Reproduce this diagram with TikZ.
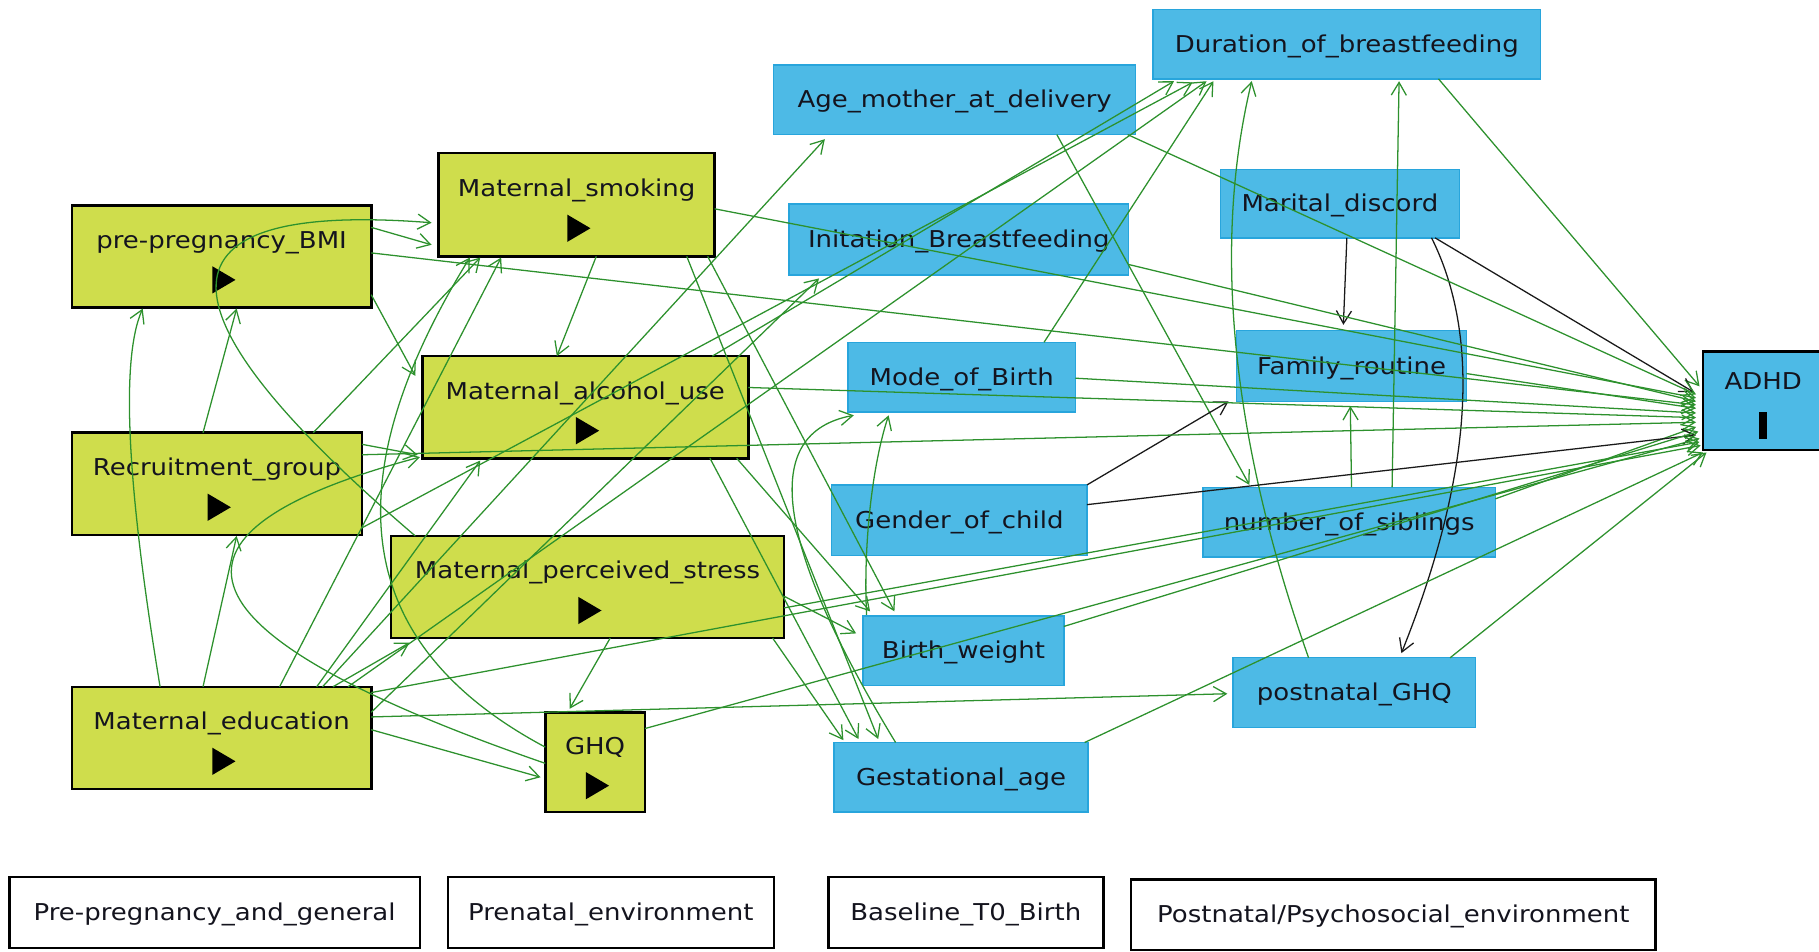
\documentclass[tikz,border=0pt]{standalone}
\usepackage{fontspec}
\newfontfamily\diagfont{DejaVu Sans}[FakeStretch=1.12]
\usetikzlibrary{arrows.meta,calc}
\definecolor{boxgreen}{RGB}{207,221,76}
\definecolor{boxblue}{RGB}{77,186,230}
\definecolor{boxblueline}{RGB}{40,165,220}
\definecolor{edgegreen}{RGB}{45,145,45}
\definecolor{edgeblack}{RGB}{25,25,25}
\definecolor{labeltext}{RGB}{20,20,30}

\begin{document}
\begin{tikzpicture}[x=1pt,y=-1pt,
  gbox/.style={draw=black,line width=2.2pt,fill=boxgreen},
  bbox/.style={draw=boxblueline,line width=1.2pt,fill=boxblue},
  obox/.style={draw=black,line width=2.2pt,fill=boxblue},
  lgbox/.style={draw=black,line width=2.2pt,fill=white},
  lab/.style={anchor=base,inner sep=0pt,font=\diagfont\fontsize{20}{24}\selectfont,text=labeltext},
  ge/.style={draw=edgegreen,line width=1.1pt,-{Straight Barb[length=11pt,width=13pt]}},
  be/.style={ge,draw=edgeblack},
]
\useasboundingbox (0,0) rectangle (1568,820);
\clip (0,0) rectangle (1568,820);

% ---------- exposure-side variables (green) ----------
\node[gbox,minimum width=258pt,minimum height=88pt] (bmi) at (191,221) {};
\node[gbox,minimum width=238pt,minimum height=89pt] (smk) at (497,176.5) {};
\node[gbox,minimum width=281pt,minimum height=88pt] (alc) at (504.5,351) {};
\node[gbox,minimum width=250pt,minimum height=88pt] (rec) at (187,417) {};
\node[gbox,minimum width=339pt,minimum height=88pt] (str) at (506.5,506) {};
\node[gbox,minimum width=258pt,minimum height=88pt] (edu) at (191,636) {};
\node[gbox,minimum width=86pt,minimum height=86pt] (ghq) at (513,657) {};

\foreach \n/\t in {bmi/pre-pregnancy\_BMI, smk/Maternal\_smoking, alc/Maternal\_alcohol\_use,
  rec/Recruitment\_group, str/Maternal\_perceived\_stress, edu/Maternal\_education, ghq/GHQ}{
  \node[lab] at ($(\n)+(0,-7)$) {\t};
  \fill ($(\n)+(-8,8.5)$) -- ($(\n)+(-8,32)$) -- ($(\n)+(12,20.25)$) -- cycle;
}

% ---------- other variables (blue) ----------
\node[bbox,minimum width=334pt,minimum height=60pt] (dur) at (1161,38) {};
\node[bbox,minimum width=312pt,minimum height=60pt] (age) at (823,86) {};
\node[bbox,minimum width=206pt,minimum height=59pt] (mar) at (1155,175.5) {};
\node[bbox,minimum width=293pt,minimum height=61pt] (ini) at (826.5,206.5) {};
\node[bbox,minimum width=198pt,minimum height=61pt] (fam) at (1165,315.5) {};
\node[bbox,minimum width=196pt,minimum height=60pt] (mob) at (829,325) {};
\node[bbox,minimum width=220pt,minimum height=61pt] (gen) at (827,448.5) {};
\node[bbox,minimum width=252pt,minimum height=60pt] (sib) at (1163,450) {};
\node[bbox,minimum width=173pt,minimum height=60pt] (bw) at (830.5,561) {};
\node[bbox,minimum width=209pt,minimum height=60pt] (pghq) at (1167.5,597) {};
\node[bbox,minimum width=219pt,minimum height=60pt] (ga) at (828.5,670) {};

\foreach \n/\t in {dur/Duration\_of\_breastfeeding, age/Age\_mother\_at\_delivery,
  mar/Marital\_discord, ini/Initation\_Breastfeeding, fam/Family\_routine,
  mob/Mode\_of\_Birth, gen/Gender\_of\_child, sib/number\_of\_siblings,
  bw/Birth\_weight, pghq/postnatal\_GHQ, ga/Gestational\_age}{
  \node[lab] at ($(\n)+(0,7)$) {\t};
}

% ---------- outcome ----------
\node[obox,minimum width=104pt,minimum height=85pt] (adhd) at (1520,345.5) {};
\node[lab] at ($(adhd)+(0,-9.5)$) {ADHD};
\fill ($(adhd)+(-3.5,9.5)$) rectangle ($(adhd)+(3.5,32.5)$);

% ---------- legend ----------
\node[lgbox,minimum width=354pt,minimum height=61pt] (lg1) at (185,786.5) {};
\node[lgbox,minimum width=281pt,minimum height=61pt] (lg2) at (526.5,786.5) {};
\node[lgbox,minimum width=237pt,minimum height=61pt] (lg3) at (832.5,786.5) {};
\node[lgbox,minimum width=452pt,minimum height=61pt] (lg4) at (1201,788.5) {};
\node[lab] at ($(lg1)+(0,7)$) {Pre-pregnancy\_and\_general};
\node[lab] at ($(lg2)+(0,7)$) {Prenatal\_environment};
\node[lab] at ($(lg3)+(0,7)$) {Baseline\_T0\_Birth};
\node[lab] at ($(lg4)+(0,7)$) {Postnatal/Psychosocial\_environment};

% ---------- edges among the green variables ----------
\draw[ge] ($(edu)+(-53,-44)$) .. controls ($(edu)+(-82,-219)$) and ($(bmi)+(-87,88)$) .. ($(bmi)+(-68,45)$);
\draw[ge] ($(edu)+(-16,-44)$) -- ($(rec)+(17,45)$);
\draw[ge] ($(rec)+(-12,-44)$) -- ($(bmi)+(13,45)$);
\draw[ge] ($(edu)+(50,-44)$) -- ($(smk)+(-65,45.5)$);
\draw[ge] ($(rec)+(83,-44)$) -- ($(smk)+(-83,45.5)$);
\draw[ge] ($(ghq)+(-43,-13)$) .. controls ($(ghq)+(-208,-101)$) and ($(smk)+(-212,240.5)$) .. ($(smk)+(-92,45.5)$);
\draw[ge] ($(smk)+(17,44.5)$) -- ($(alc)+(-24.5,-44)$);
\draw[ge] ($(bmi)+(129,-25)$) -- ($(smk)+(-125,34.5)$);
\draw[ge] ($(str)+(-148.5,-44)$) .. controls ($(bmi)+(-66,42)$) and ($(bmi)+(-62,-48)$) .. ($(smk)+(-125,15.5)$);
\draw[ge] ($(ghq)+(-43,1)$) .. controls ($(edu)+(-42,-89)$) and ($(rec)+(-72,43)$) .. ($(alc)+(-142.5,43)$);
\draw[ge] ($(rec)+(125,-34)$) -- ($(alc)+(-144.5,41)$);
\draw[ge] ($(bmi)+(129,33)$) -- ($(alc)+(-146.5,-27)$);
\draw[ge] ($(edu)+(82,-44)$) -- ($(alc)+(-90.5,46)$);
\draw[ge] ($(edu)+(96,-44)$) -- ($(str)+(-153.5,48)$);
\draw[ge] ($(edu)+(129,-7)$) -- ($(ghq)+(-47,13)$);
\draw[ge] ($(str)+(19.5,44)$) -- ($(ghq)+(-22,-46)$);

% ---------- edges from the green variables to the blue ones ----------
\draw[ge] ($(edu)+(87,-44)$) -- ($(age)+(-112,34)$);
\draw[ge] ($(edu)+(129,-22)$) -- ($(ini)+(-120.5,33.5)$);
\draw[ge] ($(edu)+(109,-44)$) -- ($(dur)+(-121,32)$);
\draw[ge] ($(rec)+(125,38)$) -- ($(dur)+(-133,33)$);
\draw[ge] ($(alc)+(109.5,-44)$) -- ($(dur)+(-149,32)$);
\draw[ge] ($(edu)+(129,-18)$) -- ($(pghq)+(-109.5,1)$);
\draw[ge] ($(str)+(169.5,8)$) -- ($(bw)+(-92.5,-15)$);
\draw[ge] ($(str)+(159.5,44)$) -- ($(ga)+(-101.5,-32)$);
\draw[ge] ($(alc)+(130.5,44)$) -- ($(bw)+(-80.5,-34)$);
\draw[ge] ($(alc)+(107.5,44)$) -- ($(ga)+(-88.5,-33)$);
\draw[ge] ($(smk)+(113,44.5)$) -- ($(bw)+(-59.5,-34)$);
\draw[ge] ($(smk)+(95,44.5)$) -- ($(ga)+(-71.5,-33)$);

% ---------- edges among the blue variables ----------
\draw[ge] ($(mob)+(71,-30)$) -- ($(dur)+(-115,32)$);
\draw[ge] ($(pghq)+(-39.5,-30)$) .. controls ($(sib)+(-102,-73)$) and ($(mar)+(-110,35.5)$) .. ($(dur)+(-82,32)$);
\draw[ge] ($(sib)+(37,-30)$) -- ($(dur)+(45,32)$);
\draw[ge] ($(age)+(88,30)$) -- ($(sib)+(-86,-32)$);
\draw[ge] ($(sib)+(2,-30)$) -- ($(fam)+(-1,34.5)$);
\draw[ge] ($(ga)+(-56.5,-30)$) .. controls ($(gen)+(-160,18.5)$) and ($(mob)+(-174,48)$) .. ($(mob)+(-93,33)$);
\draw[ge] ($(bw)+(-83.5,-31)$) .. controls ($(gen)+(-83,21.5)$) and ($(mob)+(-77,75)$) .. ($(mob)+(-63,33)$);
\draw[be] ($(mar)+(6,29.5)$) -- ($(fam)+(-7,-35.5)$);
\draw[be] ($(mar)+(79,29.5)$) .. controls ($(fam)+(112,-24.5)$) and ($(sib)+(106,-39)$) .. ($(pghq)+(40.5,-34)$);
\draw[be] ($(gen)+(110,-30.5)$) -- ($(fam)+(-106,30.5)$);

% ---------- edges into the outcome ----------
\draw[ge] ($(dur)+(79,30)$) -- ($(adhd)+(-55,-12.5)$);
\draw[be] ($(mar)+(82,29.5)$) -- ($(adhd)+(-60,-7.5)$);
\draw[ge] ($(age)+(149,30)$) -- ($(adhd)+(-58,-5.5)$);
\draw[ge] ($(smk)+(119,3.5)$) -- ($(adhd)+(-58,-2.5)$);
\draw[ge] ($(ini)+(146.5,21.5)$) -- ($(adhd)+(-58,0.5)$);
\draw[ge] ($(bmi)+(129,-3)$) -- ($(adhd)+(-58,3.5)$);
\draw[ge] ($(fam)+(99,6.5)$) -- ($(adhd)+(-58,6.5)$);
\draw[ge] ($(mob)+(98,1)$) -- ($(adhd)+(-58,10.5)$);
\draw[ge] ($(alc)+(140.5,-17)$) -- ($(adhd)+(-58,14.5)$);
\draw[ge] ($(rec)+(125,-25)$) -- ($(adhd)+(-58,18.5)$);
\draw[ge] ($(sib)+(126,-20)$) -- ($(adhd)+(-58,22.5)$);
\draw[be] ($(gen)+(110,-13.5)$) -- ($(adhd)+(-58,29.5)$);
\draw[ge] ($(bw)+(86.5,-21)$) -- ($(adhd)+(-56,26.5)$);
\draw[ge] ($(ghq)+(43,-29)$) -- ($(adhd)+(-55,32.5)$);
\draw[ge] ($(str)+(169.5,18)$) -- ($(adhd)+(-55,35.5)$);
\draw[ge] ($(edu)+(129,-39)$) -- ($(adhd)+(-54,38.5)$);
\draw[ge] ($(ga)+(106.5,-30)$) -- ($(adhd)+(-52,44.5)$);
\draw[ge] ($(pghq)+(82.5,-30)$) -- ($(adhd)+(-49,44.5)$);
\end{tikzpicture}
\end{document}
